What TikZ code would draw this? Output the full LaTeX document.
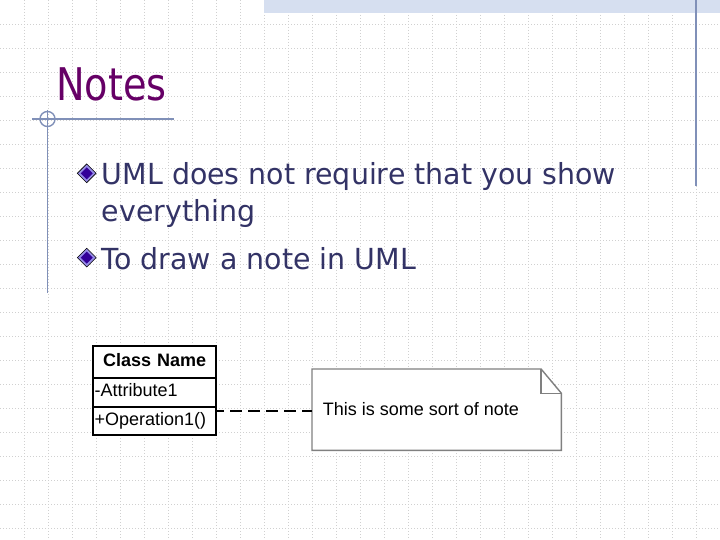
\documentclass[tikz,border=0pt]{standalone}
\usepackage{fontspec}
\setmainfont{DejaVu Sans}
\newfontfamily\titlefont[FakeStretch=0.85]{DejaVu Sans}
\newfontfamily\bodyfont[FakeStretch=0.98]{DejaVu Sans}
\newfontfamily\umlfont{Liberation Sans}
\usetikzlibrary{shapes.geometric}
\definecolor{titlepurple}{RGB}{102,0,102}
\definecolor{bodyblue}{RGB}{51,51,102}
\definecolor{decoblue}{RGB}{128,144,184}
\definecolor{gridgray}{RGB}{208,208,208}
\definecolor{bandblue}{RGB}{214,223,240}
\definecolor{bulletring}{RGB}{150,140,230}
\definecolor{bulletcore}{RGB}{51,0,153}
\definecolor{notegray}{RGB}{128,128,128}
\begin{document}
\begin{tikzpicture}[x=1pt,y=-1pt,
	gridline/.style={gridgray, line width=0.7pt, dash pattern=on 1pt off 2pt},
	decoline/.style={decoblue, line width=1.4pt},
	titletext/.style={anchor=base west, inner sep=0pt, text=titlepurple, font=\titlefont\fontsize{45}{50}\selectfont},
	bodytext/.style={anchor=base west, inner sep=0pt, text=bodyblue, font=\bodyfont\fontsize{29}{34}\selectfont},
	bulletmark/.style={diamond, draw=black, line width=0.6pt, fill=bulletring, minimum size=19pt, inner sep=0pt,
		path picture={\fill[bulletcore] ([xshift=-6pt]path picture bounding box.center) -- ([yshift=6pt]path picture bounding box.center) -- ([xshift=6pt]path picture bounding box.center) -- ([yshift=-6pt]path picture bounding box.center) -- cycle;}},
	compart/.style={draw=black, line width=2pt, fill=white, minimum width=122.7pt, text width=120pt, inner xsep=1.35pt, inner ysep=0pt, text height=13pt, text depth=4.5pt, font=\umlfont\fontsize{18}{20}\selectfont},
	umltext/.style={anchor=base west, inner sep=0pt, font=\umlfont\fontsize{18}{20}\selectfont},
	notebox/.style={draw=notegray, line width=1.4pt, fill=white},
	notelink/.style={black, line width=1.5pt, dash pattern=on 12pt off 6pt, dash phase=5pt}]
	\useasboundingbox (0,0) rectangle (720,540);
	\fill[white] (0,0) rectangle (720,540);
	% background grid
	\foreach \gx in {24,48,...,696}
		\draw[gridline] (\gx,0) -- (\gx,540);
	\foreach \gy in {24,48,...,528}
		\draw[gridline] (0,\gy) -- (720,\gy);
	\fill[bandblue] (264,0) rectangle (720,12.7);
	\draw[decoline] (696,0) -- (696,186);
	% title
	\node (title) at (56,101)	[titletext]	{Notes};
	\draw[decoline] (32,119) -- (174,119);
	\draw[decoline] (47.5,110) -- (47.5,293);
	\draw[decoline] (47.5,119) circle (7.5);
	% bullets
	\node (B1) at (86.7,173.3)	[bulletmark]	{};
	\node (B2) at (86.7,257.6)	[bulletmark]	{};
	\node (T1) at (101.7,185)	[bodytext]	{UML does not require that you show};
	\node (T2) at (101.7,221.7)	[bodytext]	{everything};
	\node (T3) at (101.7,269.3)	[bodytext]	{To draw a note in UML};
	% class
	\node (cname) at (154.65,362)	[compart, align=center, minimum height=32.6pt, font=\umlfont\bfseries\fontsize{18}{20}\selectfont]	{Class Name};
	\node (cattr) at (154.65,392.5)	[compart, align=left, minimum height=28.4pt]	{-Attribute1};
	\node (cop) at (154.65,421)	[compart, align=left, minimum height=28.6pt]	{+Operation1()};
	% note
	\node (note) at (312,369)	[anchor=north west, minimum width=249pt, minimum height=81pt, inner sep=0pt]	{};
	\filldraw[notebox] (note.south west) -- (note.north west) -- ([xshift=-20.3pt]note.north east) -- ([yshift=-24.3pt]note.north east) -- (note.south east) -- cycle;
	\draw[notebox, fill=none] ([xshift=-20.3pt]note.north east) |- ([yshift=-24.3pt]note.north east);
	\node (notetext) at (322.7,415)	[umltext]	{This is some sort of note};
	\draw[notelink] ([yshift=-1.5pt]cop.east |- note.west) -- ([yshift=-1.5pt]note.west);
\end{tikzpicture}
\end{document}
